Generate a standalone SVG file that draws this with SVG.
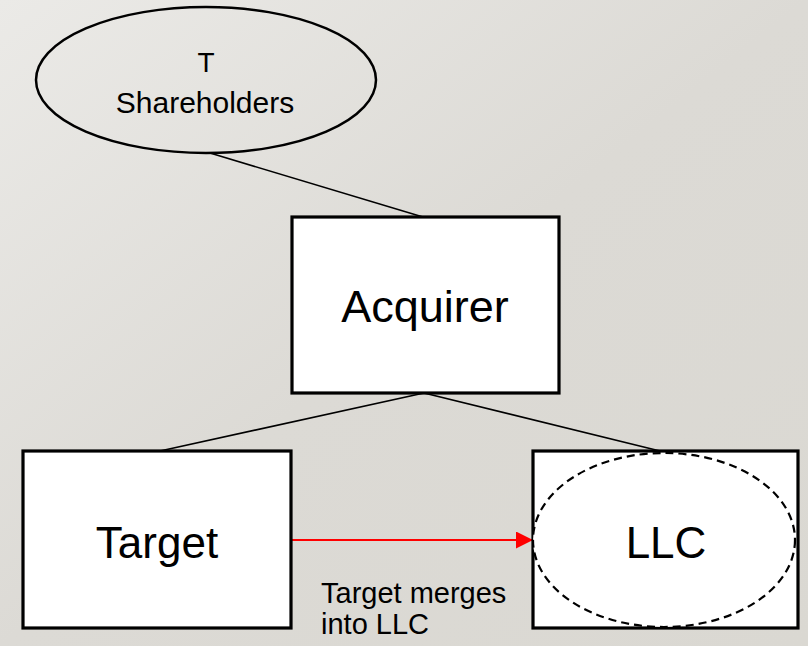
<svg xmlns="http://www.w3.org/2000/svg" width="808" height="646" viewBox="0 0 808 646">
<defs>
<linearGradient id="bg" x1="0" y1="0" x2="1" y2="1">
<stop offset="0" stop-color="#ebeae7"/>
<stop offset="0.5" stop-color="#dcdad5"/>
<stop offset="1" stop-color="#dad8d2"/>
</linearGradient>
<marker id="redArrow" viewBox="0 0 10 10" refX="10" refY="5" markerWidth="17" markerHeight="17" markerUnits="userSpaceOnUse" orient="auto">
<path d="M0,0 L10,5 L0,10 z" fill="#ff0000"/>
</marker>
<style>
.box{fill:#ffffff;stroke:#000000;stroke-width:3.2}
.lbl{font-family:"Liberation Sans",Arial,sans-serif;fill:#000000;text-anchor:middle}
.conn{stroke:#000000;stroke-width:1.6;fill:none}
.note{font-family:"Liberation Sans",Arial,sans-serif;fill:#000000;font-size:29px}
</style>
</defs>
<rect x="0" y="0" width="808" height="646" fill="url(#bg)"/>
<g id="connectors">
<line class="conn" x1="210" y1="153" x2="423" y2="217"/>
<line class="conn" x1="424" y1="393" x2="160" y2="451"/>
<line class="conn" x1="424" y1="393" x2="660" y2="451"/>
<line x1="291" y1="540" x2="533" y2="540" stroke="#ff0000" stroke-width="2" marker-end="url(#redArrow)"/>
</g>
<g id="t-shareholders">
<ellipse cx="206" cy="80" rx="170" ry="73" fill="none" stroke="#000000" stroke-width="2.5"/>
<text class="lbl" x="206" y="72" font-size="28">T</text>
<text class="lbl" x="205" y="113" font-size="30">Shareholders</text>
</g>
<g id="acquirer">
<rect class="box" x="292" y="217" width="267" height="176"/>
<text class="lbl" x="425" y="322" font-size="45">Acquirer</text>
</g>
<g id="target">
<rect class="box" x="23" y="451" width="268" height="177"/>
<text class="lbl" x="157" y="558" font-size="44">Target</text>
</g>
<g id="llc">
<rect class="box" x="533" y="451" width="265" height="177"/>
<ellipse cx="664" cy="540" rx="131" ry="87" fill="#ffffff" stroke="#000000" stroke-width="2.2" stroke-dasharray="8,5"/>
<text class="lbl" x="666" y="558" font-size="44">LLC</text>
</g>
<g id="merge-label">
<text class="note" x="321" y="603">Target merges</text>
<text class="note" x="321" y="634">into LLC</text>
</g>
</svg>
